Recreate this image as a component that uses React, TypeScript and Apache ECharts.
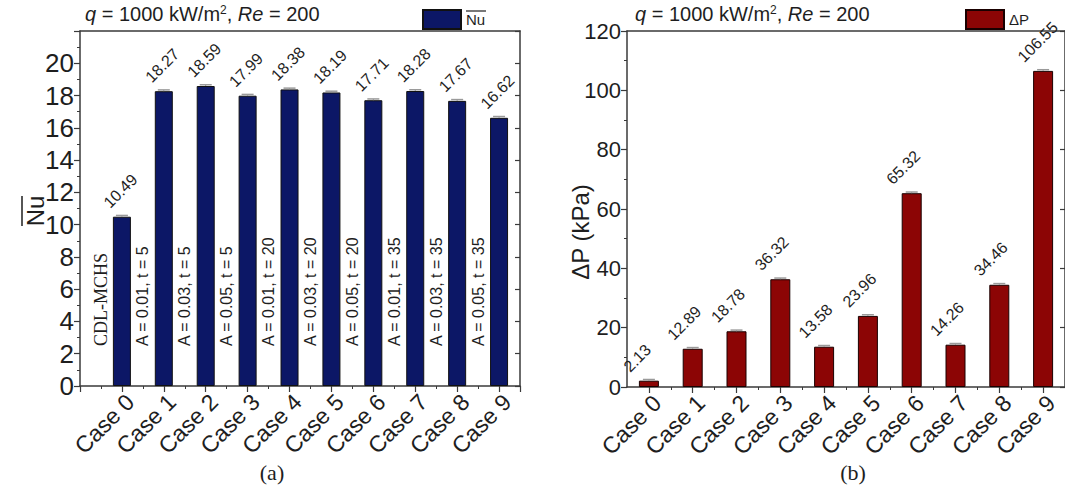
import React, { useEffect, useRef } from "react";
import * as echarts from "echarts";

// Data
const cases = ["Case 0", "Case 1", "Case 2", "Case 3", "Case 4", "Case 5", "Case 6", "Case 7", "Case 8", "Case 9"];
const nuValues = [10.49, 18.27, 18.59, 17.99, 18.38, 18.19, 17.71, 18.28, 17.67, 16.62];
const dpValues = [2.13, 12.89, 18.78, 36.32, 13.58, 23.96, 65.32, 14.26, 34.46, 106.55];
const nuErrors = [0.08, 0.08, 0.08, 0.08, 0.08, 0.08, 0.08, 0.08, 0.08, 0.08];
const dpErrors = [0.4, 0.4, 0.4, 0.4, 0.4, 0.4, 0.4, 0.4, 0.4, 0.4];
const caseNotes = [
  "CDL-MCHS",
  "A = 0.01, t = 5",
  "A = 0.03, t = 5",
  "A = 0.05, t = 5",
  "A = 0.01, t = 20",
  "A = 0.03, t = 20",
  "A = 0.05, t = 20",
  "A = 0.01, t = 35",
  "A = 0.03, t = 35",
  "A = 0.05, t = 35",
];

const SANS = "Liberation Sans, Arial, sans-serif";
const SERIF = "Liberation Serif, Times New Roman, serif";
const AXIS_COLOR = "#3a3a3a";
const TEXT_COLOR = "#1e1e1e";

const caseIdx = cases.map((_, i) => i);
const halfIdx = cases.slice(1).map((_, i) => i + 0.5);

const caseLabel = (v: number) =>
  Number.isInteger(v) && v >= 0 && v < cases.length ? cases[v] : "";

const xLabelStyle = {
  rotate: 45,
  fontSize: 23,
  fontFamily: SANS,
  color: TEXT_COLOR,
  margin: 4,
  verticalAlign: "top",
  formatter: caseLabel,
};

const axisLine = { onZero: false, lineStyle: { color: AXIS_COLOR, width: 1.5 } };
const tickLine = { color: AXIS_COLOR, width: 1.2 };

// Left panel: integer bounds, so interval ticks land on the cases
function bottomXInterval(gridIndex: number, min: number, max: number) {
  return {
    gridIndex,
    type: "value",
    min,
    max,
    interval: 1,
    position: "bottom",
    axisLine,
    axisTick: { length: 6, lineStyle: tickLine },
    minorTick: { show: true, splitNumber: 2, length: 3, lineStyle: { color: AXIS_COLOR, width: 1 } },
    splitLine: { show: false },
    axisLabel: xLabelStyle,
  };
}

// Right panel: half-integer bounds, ticks placed on explicit values
function bottomXCustom(gridIndex: number, min: number, max: number) {
  return {
    gridIndex,
    type: "value",
    min,
    max,
    position: "bottom",
    axisLine,
    axisTick: { length: 6, lineStyle: tickLine, customValues: caseIdx },
    splitLine: { show: false },
    axisLabel: { ...xLabelStyle, customValues: caseIdx },
  };
}

function bottomXMinor(gridIndex: number, min: number, max: number) {
  return {
    gridIndex,
    type: "value",
    min,
    max,
    position: "bottom",
    axisLine: { show: false, onZero: false },
    axisTick: { length: 3, lineStyle: { color: AXIS_COLOR, width: 1 }, customValues: halfIdx },
    splitLine: { show: false },
    axisLabel: { show: false },
  };
}

function topX(gridIndex: number, min: number, max: number) {
  return {
    gridIndex,
    type: "value",
    min,
    max,
    position: "top",
    axisLine,
    axisTick: { show: false },
    axisLabel: { show: false },
    splitLine: { show: false },
  };
}

function leftY(gridIndex: number, max: number, interval: number, fontSize: number, shownMax: number) {
  return {
    gridIndex,
    type: "value",
    min: 0,
    max,
    interval,
    position: "left",
    axisLine: { show: true, ...axisLine },
    axisTick: { show: true, length: 6, lineStyle: tickLine },
    minorTick: { show: true, splitNumber: 2, length: 3, lineStyle: { color: AXIS_COLOR, width: 1 } },
    splitLine: { show: false },
    axisLabel: {
      fontSize,
      fontFamily: SANS,
      color: TEXT_COLOR,
      margin: 6,
      formatter: (v: number) => (v > shownMax ? "" : String(v)),
    },
  };
}

function rightY(gridIndex: number, max: number, interval: number) {
  return {
    gridIndex,
    type: "value",
    min: 0,
    max,
    interval,
    position: "right",
    axisLine: { show: true, ...axisLine },
    axisTick: { show: true, inside: true, length: 5, lineStyle: tickLine },
    minorTick: { show: false },
    axisLabel: { show: false },
    splitLine: { show: false },
  };
}

// Error cap plus rotated value label above each bar
function valueMarks(values: number[], dx: number) {
  return (params: any, api: any) => {
    const i = api.value(0);
    const v = api.value(1);
    const e = api.value(2);
    const top = api.coord([i, v]);
    const hi = api.coord([i, v + e]);
    return {
      type: "group",
      children: [
        {
          type: "line",
          shape: { x1: top[0], y1: top[1], x2: hi[0], y2: hi[1] },
          style: { stroke: "#8a8a8a", lineWidth: 1 },
        },
        {
          type: "line",
          shape: { x1: hi[0] - 6, y1: hi[1], x2: hi[0] + 6, y2: hi[1] },
          style: { stroke: "#9a9a9a", lineWidth: 1.5 },
        },
        {
          type: "text",
          x: top[0] + dx,
          y: top[1] - 6,
          rotation: Math.PI / 4,
          style: {
            text: values[params.dataIndex].toFixed(2),
            fontSize: 16,
            fontFamily: SANS,
            fill: TEXT_COLOR,
            align: "left",
            verticalAlign: "bottom",
          },
        },
      ],
    };
  };
}

function titleText(x: number) {
  return {
    type: "text",
    left: x,
    top: 4,
    style: {
      text: "{i|q} = 1000 kW/m{sup|2}, {i|Re} = 200",
      fontSize: 20,
      fontFamily: SANS,
      fill: TEXT_COLOR,
      rich: {
        i: { fontStyle: "italic", fontSize: 20, fontFamily: SANS, fill: TEXT_COLOR },
        sup: { fontSize: 12, fontFamily: SANS, fill: TEXT_COLOR, verticalAlign: "top", padding: [0, 0, 8, 0] },
      },
    },
  };
}

export default function App() {
  const ref = useRef<HTMLDivElement>(null);

  useEffect(() => {
    if (!ref.current) return;
    const chart = echarts.init(ref.current, undefined, { renderer: "svg" });

    const option: any = {
      animation: false,
      grid: [
        { left: 80, top: 31, width: 440, height: 355 },
        { left: 627, top: 31, width: 440, height: 356 },
      ],
      xAxis: [
        bottomXInterval(0, -1, 9.5),
        topX(0, -1, 9.5),
        bottomXCustom(1, -0.5, 9.5),
        topX(1, -0.5, 9.5),
        bottomXMinor(1, -0.5, 9.5),
      ],
      yAxis: [leftY(0, 22, 2, 26, 20), rightY(0, 22, 2), leftY(1, 120, 20, 22, 120), rightY(1, 120, 20)],
      legend: [
        {
          data: ["Nu"],
          left: 422,
          top: 9,
          padding: 0,
          itemWidth: 38,
          itemHeight: 19,
          icon: "rect",
          selectedMode: false,
          textStyle: { fontSize: 15, fontFamily: SANS, color: TEXT_COLOR, padding: [3, 0, 0, 0] },
        },
        {
          data: ["ΔP"],
          left: 965,
          top: 9,
          padding: 0,
          itemWidth: 38,
          itemHeight: 19,
          icon: "rect",
          selectedMode: false,
          textStyle: { fontSize: 15, fontFamily: SANS, color: TEXT_COLOR },
        },
      ],
      series: [
        {
          name: "Nu",
          type: "bar",
          xAxisIndex: 0,
          yAxisIndex: 0,
          barWidth: 18,
          data: nuValues.map((v, i) => [i, v]),
          itemStyle: { color: "#0c1766", borderColor: "#111", borderWidth: 1 },
        },
        {
          type: "custom",
          xAxisIndex: 0,
          yAxisIndex: 0,
          clip: false,
          z: 5,
          encode: { x: 0, y: 1 },
          data: nuValues.map((v, i) => [i, v, nuErrors[i]]),
          renderItem: valueMarks(nuValues, -10),
        },
        {
          // configuration notes written vertically beside each bar
          type: "custom",
          xAxisIndex: 0,
          yAxisIndex: 0,
          clip: false,
          z: 5,
          encode: { x: 0, y: 1 },
          data: caseNotes.map((_, i) => [i - 0.5, 0]),
          renderItem: (params: any, api: any) => {
            const p = api.coord([api.value(0), api.value(1)]);
            const idx = params.dataIndex;
            return {
              type: "text",
              x: p[0],
              y: p[1] - 40,
              rotation: Math.PI / 2,
              style: {
                text: caseNotes[idx],
                fontSize: idx === 0 ? 18 : 16,
                fontFamily: idx === 0 ? SERIF : SANS,
                fill: TEXT_COLOR,
                align: "left",
                verticalAlign: "middle",
              },
            };
          },
        },
        {
          name: "ΔP",
          type: "bar",
          xAxisIndex: 2,
          yAxisIndex: 2,
          barWidth: 20,
          data: dpValues.map((v, i) => [i, v]),
          itemStyle: { color: "#8c0505", borderColor: "#1a0000", borderWidth: 1 },
        },
        {
          type: "custom",
          xAxisIndex: 2,
          yAxisIndex: 2,
          clip: false,
          z: 5,
          encode: { x: 0, y: 1 },
          data: dpValues.map((v, i) => [i, v, dpErrors[i]]),
          renderItem: valueMarks(dpValues, -17),
        },
      ],
      graphic: [
        titleText(85),
        titleText(635),
        // overline on the Nu legend label
        { type: "line", shape: { x1: 466, y1: 11, x2: 486, y2: 11 }, style: { stroke: TEXT_COLOR, lineWidth: 1.2 } },
        // left axis title: Nu with overline
        {
          type: "group",
          x: 35,
          y: 211,
          rotation: Math.PI / 2,
          children: [
            {
              type: "text",
              x: 0,
              y: 0,
              style: { text: "Nu", fontSize: 24, fontFamily: SANS, fill: TEXT_COLOR, align: "center", verticalAlign: "middle" },
            },
            { type: "line", shape: { x1: -15, y1: -13, x2: 15, y2: -13 }, style: { stroke: TEXT_COLOR, lineWidth: 1.5 } },
          ],
        },
        {
          type: "text",
          x: 580,
          y: 232,
          rotation: Math.PI / 2,
          style: { text: "ΔP (kPa)", fontSize: 24, fontFamily: SANS, fill: TEXT_COLOR, align: "center", verticalAlign: "middle" },
        },
        {
          type: "text",
          x: 272,
          y: 472,
          style: { text: "(a)", fontSize: 22, fontFamily: SERIF, fill: TEXT_COLOR, align: "center", verticalAlign: "middle" },
        },
        {
          type: "text",
          x: 853,
          y: 472,
          style: { text: "(b)", fontSize: 22, fontFamily: SERIF, fill: TEXT_COLOR, align: "center", verticalAlign: "middle" },
        },
      ],
    };

    chart.setOption(option);
    return () => chart.dispose();
  }, []);

  return (
    <div
      ref={ref}
      style={{ position: "fixed", left: 0, top: 0, width: 1065, height: 491, background: "#fff" }}
    />
  );
}
